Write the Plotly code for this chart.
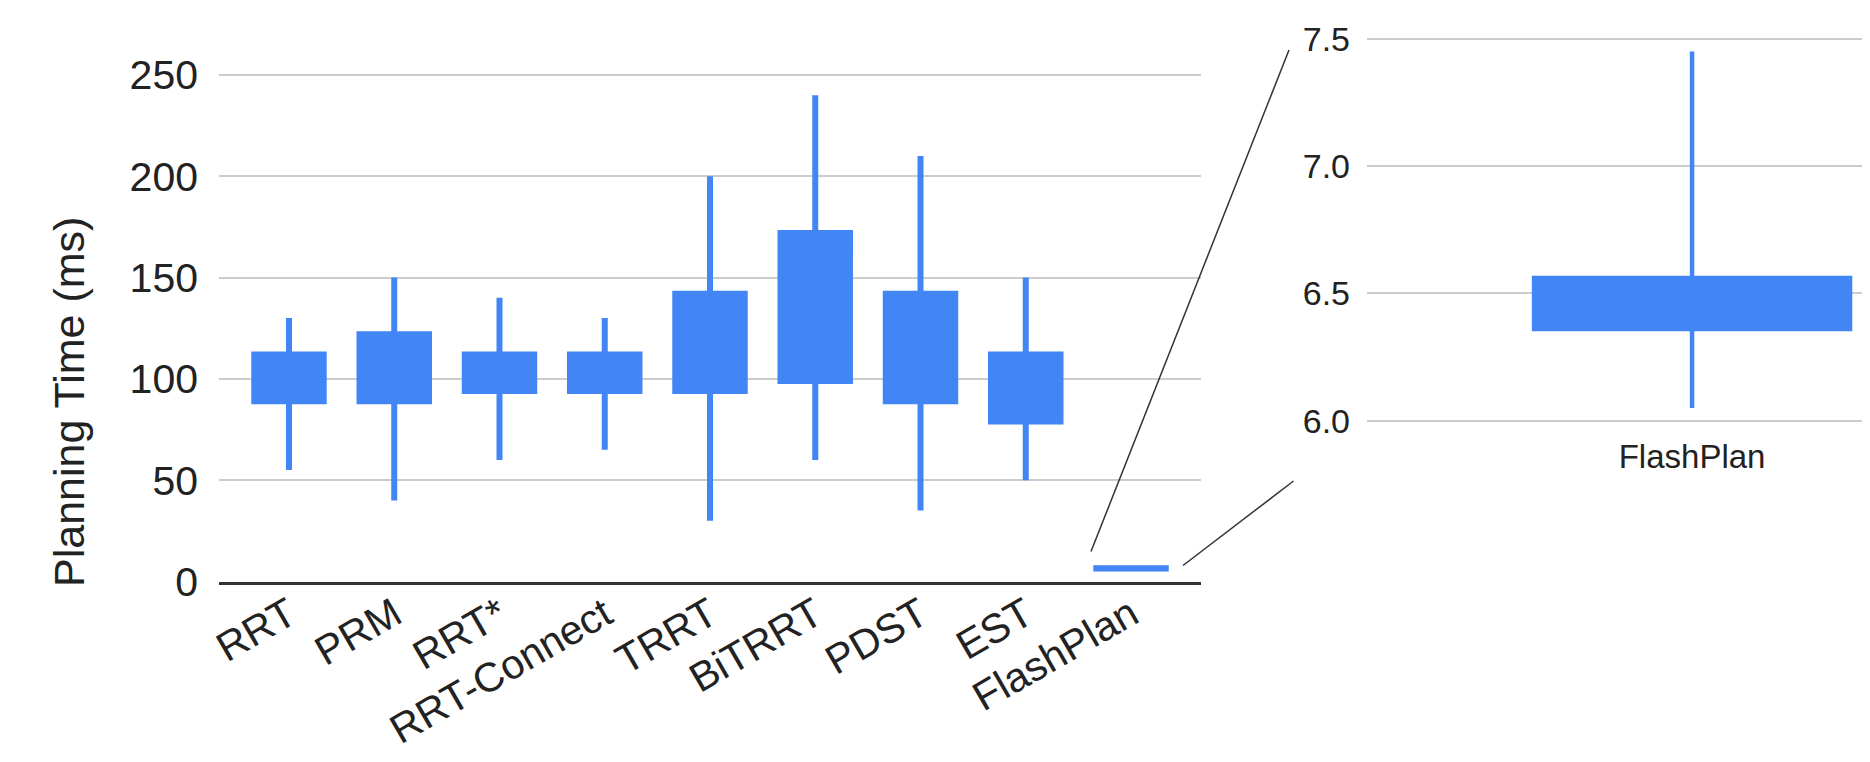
import plotly.graph_objects as go

W, H = 1870, 762

categories = ["RRT", "PRM", "RRT*", "RRT-Connect", "TRRT", "BiTRRT", "PDST", "EST", "FlashPlan"]
low = [55, 40, 60, 65, 30, 60, 35, 50, 6.05]
q1 = [89, 89, 94, 94, 94, 99, 89, 79, 6.36]
q3 = [112, 122, 112, 112, 142, 172, 142, 112, 6.56]
high = [130, 150, 140, 130, 200, 240, 210, 150, 7.45]

zoom_cat = ["FlashPlan"]
zoom_low = [6.05]
zoom_q1 = [6.36]
zoom_q3 = [6.56]
zoom_high = [7.45]

main_ticks = [0, 50, 100, 150, 200, 250]
zoom_ticks = [6.0, 6.5, 7.0, 7.5]

BLUE = "#4285F4"
FONT = "Liberation Sans, Arial, sans-serif"


def px(x, y):
    # pixel position -> paper coords
    return x / W, 1 - y / H


fig = go.Figure()

fig.add_trace(go.Box(
    x=categories, q1=q1, median=q1, q3=q3,
    lowerfence=low, upperfence=high,
    width=0.66, whiskerwidth=0, boxpoints=False,
    fillcolor=BLUE, line=dict(color=BLUE, width=6),
    xaxis="x", yaxis="y", showlegend=False,
))

fig.add_trace(go.Box(
    x=zoom_cat, q1=zoom_q1, median=zoom_q1, q3=zoom_q3,
    lowerfence=zoom_low, upperfence=zoom_high,
    width=0.486, whiskerwidth=0, boxpoints=False,
    fillcolor=BLUE, line=dict(color=BLUE, width=4.5),
    xaxis="x2", yaxis="y2", showlegend=False,
))

# connector lines from the small FlashPlan box to the zoom panel
connectors = [((1083, 543.5), (1281, 42)), ((1175, 557.5), (1285.5, 473))]
shapes = []
for (a, b) in connectors:
    x0, y0 = px(*a)
    x1, y1 = px(*b)
    shapes.append(dict(type="line", xref="paper", yref="paper",
                       x0=x0, y0=y0, x1=x1, y1=y1,
                       line=dict(color="#333333", width=1.5)))

fig.update_layout(
    width=W, height=H,
    margin=dict(l=0, r=0, t=0, b=0, autoexpand=False),
    paper_bgcolor="white", plot_bgcolor="white",
    font=dict(family=FONT, color="#222222"),
    shapes=shapes,
    xaxis=dict(domain=[211 / W, 1193 / W], type="category",
               range=[-0.665, 8.665], tickangle=-30,
               tickfont=dict(size=41, color="#222222"),
               showgrid=False, showline=True, linecolor="#333333",
               linewidth=3, ticks="", ticklabelstandoff=-10,
               automargin=False, anchor="y"),
    yaxis=dict(domain=[1 - 573.5 / H, 1 - 62.9 / H], range=[0, 252],
               tickvals=main_ticks, tickfont=dict(size=41, color="#222222"),
               gridcolor="#cccccc", gridwidth=2, zeroline=False,
               ticklabelstandoff=20, automargin=False, anchor="x"),
    xaxis2=dict(domain=[1359 / W, 1.0], type="category",
                range=[-0.5, 0.286], tickfont=dict(size=33, color="#222222"),
                showgrid=False, showline=False, ticks="",
                ticklabelstandoff=8, automargin=False, anchor="y2"),
    yaxis2=dict(domain=[1 - 417.8 / H, 1 - 25.6 / H], range=[5.98, 7.52],
                tickvals=zoom_ticks, tickformat=".1f",
                tickfont=dict(size=34, color="#222222"),
                gridcolor="#cccccc", gridwidth=2, zeroline=False,
                ticklabelstandoff=16, automargin=False, anchor="x2"),
    annotations=[dict(text="Planning Time (ms)", textangle=-90,
                      xref="paper", yref="paper", x=35 / W, y=1 - 394 / H,
                      showarrow=False, font=dict(size=43, color="#222222"))],
)

fig.write_html("out.html")
